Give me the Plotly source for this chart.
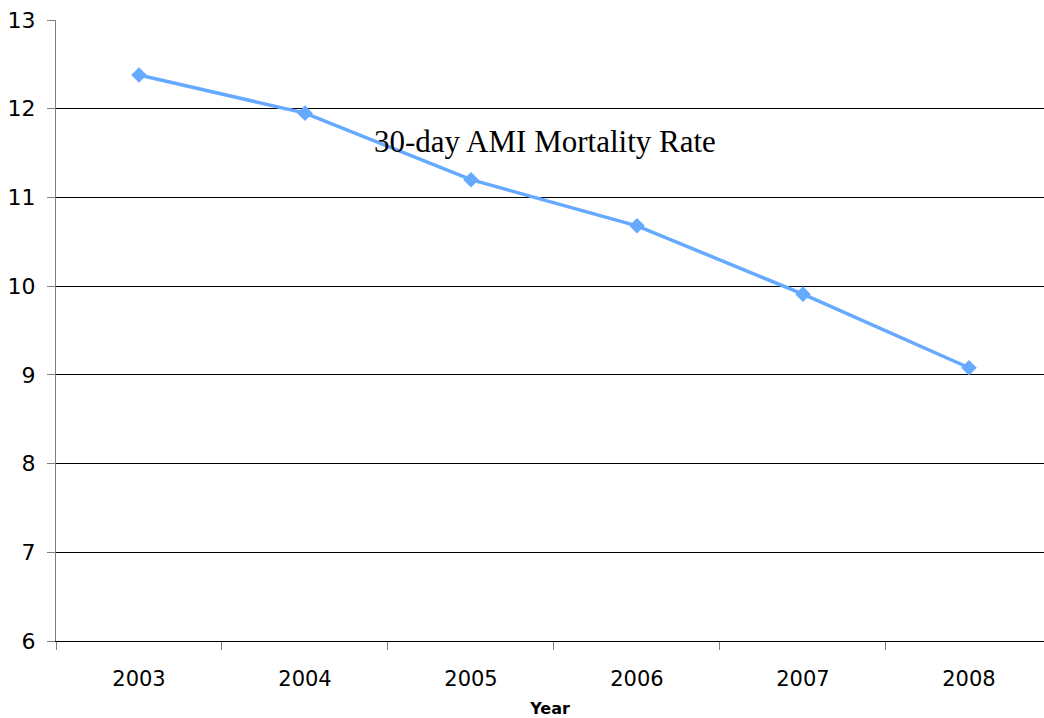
import plotly.graph_objects as go

years = ["2003", "2004", "2005", "2006", "2007", "2008"]
mortality = [12.38, 11.95, 11.20, 10.68, 9.91, 9.08]
y_ticks = [6, 7, 8, 9, 10, 11, 12, 13]

fig = go.Figure()
fig.add_trace(go.Scatter(
    x=years, y=mortality, mode="lines+markers",
    line=dict(color="#66AAFF", width=3.5),
    marker=dict(symbol="diamond", size=12, color="#66AAFF"),
    showlegend=False,
))

fig.add_annotation(
    x=0.495, y=0.805, xref="paper", yref="paper",
    text="30-day AMI Mortality Rate", showarrow=False,
    font=dict(family="Liberation Serif, Times New Roman, serif", size=31, color="black"),
    xanchor="center", yanchor="middle",
)

fig.update_layout(
    width=1044, height=718,
    margin=dict(l=56, r=0, t=20, b=77),
    paper_bgcolor="white", plot_bgcolor="white",
    font=dict(family="DejaVu Sans, Verdana, sans-serif", size=22, color="black"),
    xaxis=dict(
        type="category", tickson="boundaries", range=[-0.5, 5.452],
        showgrid=False, ticks="outside", ticklen=8, tickcolor="#808080",
        showline=True, linecolor="black", linewidth=1,
        tickfont=dict(size=21), ticklabelstandoff=19,
        title=dict(text="<b>Year</b>", font=dict(size=16), standoff=14),
    ),
    yaxis=dict(
        range=[6, 13], tickvals=y_ticks, showgrid=True, gridcolor="black", gridwidth=1,
        ticks="outside", ticklen=8, tickcolor="#808080",
        showline=True, linecolor="#808080", linewidth=1,
        tickfont=dict(size=22), zeroline=False, ticklabelstandoff=7,
    ),
)

fig.write_html(
    "out.html",
    config={"displayModeBar": False},
    post_script="document.body.style.margin='0';document.body.style.overflow='hidden';",
)
